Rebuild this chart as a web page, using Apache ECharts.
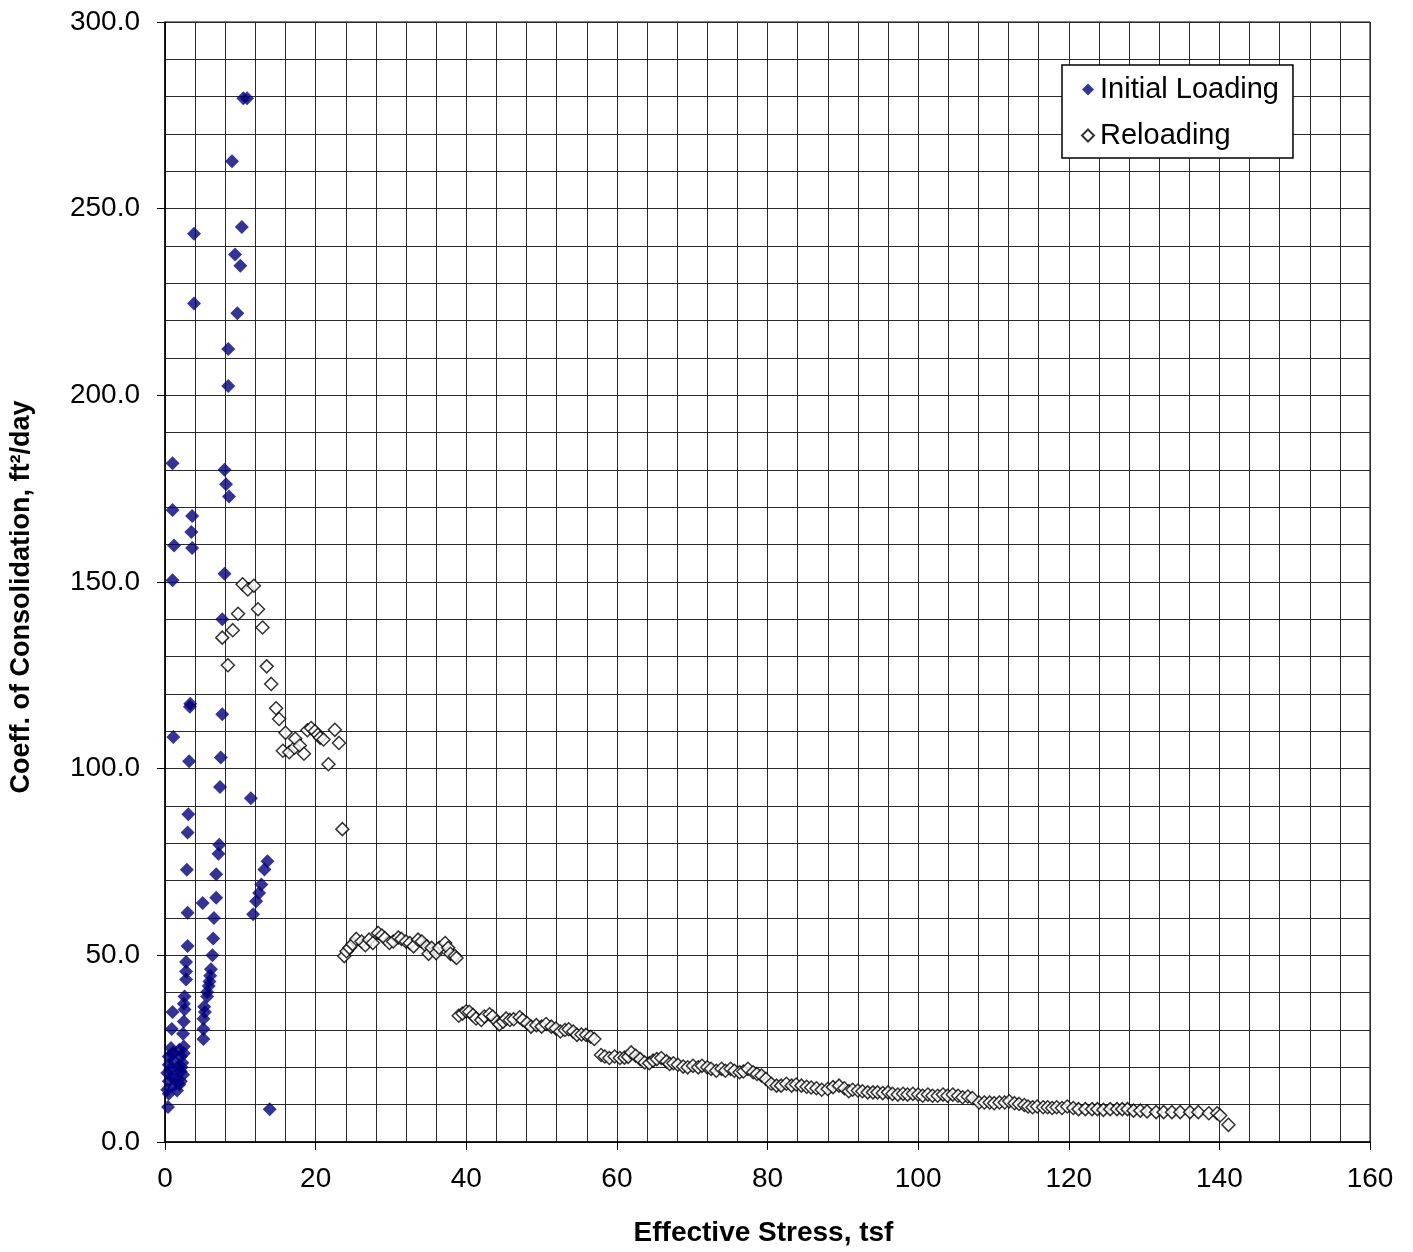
<!DOCTYPE html>
<html>
<head>
<meta charset="utf-8">
<title>Coefficient of Consolidation vs Effective Stress</title>
<script src="https://cdn.jsdelivr.net/npm/echarts@6/dist/echarts.min.js"></script>
<style>
  html, body { margin: 0; padding: 0; background: #fff; }
  #chart { width: 1413px; height: 1252px; }
</style>
</head>
<body>
<div id="chart"></div>
<script>
// Initial loading: effective stress (tsf) and coefficient of consolidation (ft²/day)
const initialStress = [
  10.4, 10.9, 8.9, 10.2, 3.85, 9.3, 10.0, 3.85, 9.6, 8.4, 8.4,
  1.0, 7.9, 8.1, 8.5, 1.0, 3.6, 3.5, 1.2, 3.6, 1.0, 7.9, 7.6,
  3.3, 3.35, 7.6, 1.1, 3.2, 7.4, 7.3, 11.4, 3.1, 3.0, 7.2, 7.1,
  13.6, 13.2, 2.9, 6.8, 12.8, 12.5, 6.8, 12.1, 5.0, 11.7, 3.0, 6.5,
  6.4, 3.0, 6.3, 2.8, 6.1, 2.8, 6.0, 2.8, 5.9, 5.8, 5.6, 5.6, 2.6,
  2.5, 5.2, 5.3, 2.6, 5.1, 1.0, 2.5, 0.9, 5.1, 2.4, 5.1,
  0.8, 0.5, 0.5, 0.3, 0.5, 0.3, 0.5, 1.9, 2.1, 2.3, 2.1, 2.1, 1.9,
  1.4, 1.2, 2.5, 2.5, 1.65, 1.3, 1.0, 0.7, 1.6, 2.4, 1.1, 2.2, 0.9,
  0.4, 13.9
];
const initialCv = [
  279.6, 279.6, 262.7, 245.1, 243.3, 237.7, 234.7, 224.6, 222.0, 212.4, 202.5,
  181.8, 180.1, 176.2, 172.9, 169.3, 167.7, 163.4, 159.8, 159.1, 150.5, 152.2, 140.0,
  116.6, 117.4, 114.6, 108.5, 102.0, 103.0, 95.1, 92.1, 87.8, 82.9, 79.6, 77.2,
  75.2, 73.0, 72.9, 71.7, 69.0, 66.7, 65.4, 64.5, 64.0, 61.0, 61.4, 60.0,
  54.5, 52.5, 50.0, 48.2, 46.3, 45.7, 44.5, 43.5, 43.0, 41.8, 40.2, 39.0, 39.0,
  37.0, 36.2, 34.8, 35.5, 33.0, 34.8, 32.3, 30.3, 30.3, 29.0, 27.6,
  25.2, 22.9, 20.7, 18.5, 16.3, 14.0, 12.9, 24.7, 22.9, 21.2, 18.9, 16.3, 15.4,
  17.1, 21.6, 25.6, 23.8, 19.8, 15.4, 23.5, 19.5, 13.8, 18.0, 24.0, 20.0, 17.5,
  9.4, 8.8
];

// Reloading: effective stress (tsf) and coefficient of consolidation (ft²/day)
const reloadStress = [
  7.6, 8.35, 9.0, 9.7, 10.3, 11.0, 11.8, 12.35, 12.95, 13.5, 14.1, 14.75, 15.15,
  16.0, 15.65, 16.5, 17.2, 17.3, 17.9, 18.45, 18.9, 19.4, 19.9, 20.3, 20.6, 21.05,
  21.7, 22.55, 23.1, 23.55,
  23.8, 24.1, 24.5, 24.9, 25.4, 26.1, 26.6, 27.1, 27.6, 28.3, 28.8, 29.2, 29.8,
  30.3, 31.0, 31.4, 32.0, 32.5, 33.0, 33.6, 34.1, 34.75, 35.0, 35.4, 36.0, 36.4,
  37.2, 37.6, 37.9, 38.5, 38.7,
  39.0, 39.5, 40.0, 40.4, 40.9, 41.3, 42.0, 42.4, 43.1, 43.5, 44.1, 44.4, 44.9,
  45.3, 45.8, 46.3, 47.1, 47.5, 48.1, 48.6, 49.3, 50.0, 50.6, 51.3, 51.9, 52.5,
  53.1, 53.6, 54.2, 54.7, 55.3, 55.9, 56.5, 57.0, 57.9, 58.4, 59.0, 59.7, 60.4,
  61.0, 61.5, 61.9, 62.5, 63.1, 63.7, 64.3, 64.8, 65.3, 65.9, 66.6, 67.0, 67.5,
  68.1, 68.8, 69.4, 70.1, 70.8, 71.3, 72.0, 72.5, 73.2, 73.9, 74.4, 75.1, 75.6,
  76.3, 76.8, 77.4, 78.1, 78.6, 79.2, 79.8, 80.5, 81.2, 81.8, 82.5, 83.2, 83.8,
  84.5, 85.2, 85.8, 86.5, 87.2, 88.0, 88.7, 89.5, 90.2, 90.8, 91.3, 92.0, 92.6,
  93.3, 94.0, 94.6, 95.3, 96.0, 96.6, 97.3, 98.0, 98.6, 99.3, 100.0, 100.6, 101.3,
  101.9, 102.6, 103.3, 103.9, 104.6, 105.3, 105.9, 106.6, 107.2, 108.1, 108.8, 109.5,
  110.1, 110.8, 111.5, 112.1, 112.8, 113.4, 114.1, 114.6, 115.2, 115.8, 116.6, 117.2,
  117.8, 118.4, 119.1, 119.8, 120.6, 121.3, 122.2, 123.1, 123.8, 124.6, 125.5, 126.4,
  127.1, 127.8, 128.6, 129.5, 130.4, 131.6, 132.6, 133.7, 134.8, 136.1, 137.2, 138.6,
  139.7, 140.1, 141.2
];
const reloadCv = [
  135.1, 127.7, 137.1, 141.5, 149.4, 148.0, 149.0, 142.7, 137.8, 127.4, 122.7, 116.2, 113.3,
  109.6, 104.8, 104.4, 105.6, 108.0, 106.2, 104.0, 110.3, 110.9, 110.0, 109.1, 108.3, 107.8,
  101.2, 110.4, 106.9, 83.8,
  49.8, 51.1, 52.0, 53.0, 54.4, 53.7, 52.7, 54.2, 53.3, 56.0, 55.3, 54.6, 53.3,
  53.7, 54.8, 54.4, 53.7, 53.3, 52.4, 54.2, 53.7, 52.4, 50.4, 52.0, 50.6, 52.0,
  53.3, 52.0, 50.4, 49.8, 49.3,
  33.8, 34.4, 35.0, 34.9, 34.0, 33.1, 32.7, 33.6, 34.2, 33.6, 32.2, 31.5, 32.2,
  33.1, 32.7, 32.9, 33.4, 32.7, 31.8, 30.9, 31.3, 30.9, 31.6, 30.9, 30.4, 29.6,
  30.0, 30.2, 29.6, 28.7, 28.8, 28.7, 28.2, 27.6, 23.3, 22.9, 22.5, 22.9, 22.5,
  22.6, 22.8, 24.0, 23.1, 22.2, 21.3, 21.1, 21.8, 22.2, 22.5, 21.6, 20.9, 21.1,
  20.7, 20.2, 20.0, 20.4, 20.0, 20.4, 20.0, 19.6, 19.1, 19.6, 19.1, 19.6, 19.1,
  18.7, 18.9, 19.6, 18.7, 18.2, 17.8, 16.9, 15.6, 15.1, 15.1, 15.6, 15.1, 15.4,
  15.1, 14.8, 14.6, 14.4, 14.0, 14.2, 14.7, 15.1, 14.4, 13.6, 14.0, 13.8, 13.6,
  13.3, 13.3, 13.3, 13.1, 13.3, 12.9, 12.7, 12.9, 12.7, 12.9, 12.7, 12.4, 12.7,
  12.4, 12.4, 12.7, 12.4, 12.7, 12.4, 12.0, 12.2, 11.8, 10.6, 10.6, 10.6,
  10.4, 10.6, 10.6, 10.9, 10.4, 10.2, 9.9, 9.5, 9.3, 9.5, 9.3, 9.3,
  9.1, 9.3, 9.1, 9.5, 9.1, 8.8, 8.8, 8.8, 8.8, 8.6, 8.8, 8.8,
  8.8, 8.8, 8.4, 8.4, 8.2, 8.0, 8.0, 8.0, 8.0, 8.0, 8.0, 7.7,
  7.7, 7.1, 4.6
];

const xTitle = 'Effective Stress, tsf';
const yTitle = 'Coeff. of Consolidation, ft²/day';
const seriesNames = ['Initial Loading', 'Reloading'];

const zip = (xs, ys) => xs.map((x, i) => [x, ys[i]]);

const FONT = '"Liberation Sans", Arial, sans-serif';
const gridLine = { show: true, lineStyle: { color: '#2a2a2a', width: 1 } };

const chart = echarts.init(document.getElementById('chart'), null, { renderer: 'canvas' });
chart.setOption({
  animation: false,
  backgroundColor: '#ffffff',
  grid: {
    left: 165, right: 43, top: 22, bottom: 104,
    show: true, borderColor: '#000', borderWidth: 1, backgroundColor: 'transparent'
  },
  legend: {
    orient: 'vertical',
    left: 1062, top: 65,
    padding: [10, 14, 8, 19],
    itemGap: 17,
    itemWidth: 12, itemHeight: 12,
    backgroundColor: '#fff',
    borderColor: '#000', borderWidth: 1.5,
    textStyle: { fontFamily: FONT, fontSize: 29, color: '#000', padding: [0, 0, 0, 1] },
    data: seriesNames
  },
  xAxis: {
    type: 'value',
    min: 0, max: 160, interval: 20,
    name: xTitle,
    nameLocation: 'middle',
    nameGap: 77,
    nameTextStyle: { fontFamily: FONT, fontSize: 28, fontWeight: 'bold', color: '#000', padding: [0, 8, 0, 0] },
    axisLine: { show: true, lineStyle: { color: '#000', width: 1.5 } },
    axisTick: { show: true, inside: false, length: 8, lineStyle: { color: '#000' } },
    axisLabel: { margin: 23, fontFamily: FONT, fontSize: 28, color: '#000' },
    splitLine: gridLine,
    minorTick: { show: false, splitNumber: 5 },
    minorSplitLine: gridLine
  },
  yAxis: {
    type: 'value',
    min: 0, max: 300, interval: 50,
    name: yTitle,
    nameLocation: 'middle',
    nameGap: 130,
    nameRotate: 90,
    nameTextStyle: {
      fontFamily: FONT, fontSize: 27, fontWeight: 'bold', color: '#000',
      padding: [0, 30, 0, 0]
    },
    axisLine: { show: true, lineStyle: { color: '#000', width: 1.5 } },
    axisTick: { show: true, inside: false, length: 8, lineStyle: { color: '#000' } },
    axisLabel: {
      margin: 25, fontFamily: FONT, fontSize: 28, color: '#000',
      formatter: v => v.toFixed(1)
    },
    splitLine: gridLine,
    minorTick: { show: false, splitNumber: 5 },
    minorSplitLine: gridLine
  },
  series: [
    {
      name: seriesNames[0],
      type: 'scatter',
      symbol: 'diamond',
      symbolSize: 14,
      itemStyle: { color: '#000080' },
      data: zip(initialStress, initialCv),
      z: 3
    },
    {
      name: seriesNames[1],
      type: 'scatter',
      symbol: 'diamond',
      symbolSize: 13,
      itemStyle: { color: '#ffffff', borderColor: '#000', borderWidth: 1.5 },
      data: zip(reloadStress, reloadCv),
      z: 4
    }
  ]
});
</script>
</body>
</html>
